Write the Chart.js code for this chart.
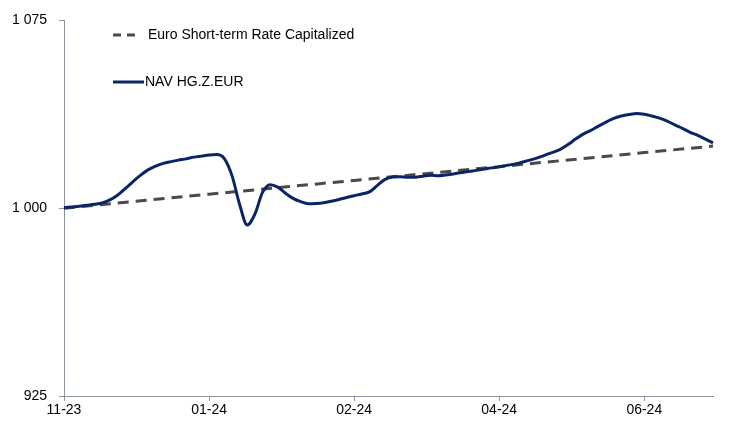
<!DOCTYPE html>
<html>
<head>
<meta charset="utf-8">
<script src="https://cdn.jsdelivr.net/npm/chart.js@4"></script>
<style>
  html, body { margin: 0; padding: 0; background: #fff; }
  #wrap { width: 734px; height: 421px; position: relative; }
</style>
</head>
<body>
<div id="wrap"><canvas id="navChart"></canvas></div>
<script>
// Tick labels shown every 19 points along the x axis
const tickLabels = ['11-23', '01-24', '02-24', '04-24', '06-24'];
const tickEvery = 19;

// NAV HG.Z.EUR, rebased to 1000
const navValues = [
    1000.2, 1000.5, 1000.8, 1001.2, 1001.6, 1002.1, 1003.3, 1005.2, 1007.8, 1010.5,
    1013.1, 1015.3, 1016.8, 1017.9, 1018.6, 1019.2, 1019.7, 1020.4, 1020.8, 1021.2,
    1021.4, 1019.8, 1013.0, 1001.5, 993.3, 997.6, 1006.3, 1009.4, 1008.4, 1006.0,
    1003.9, 1002.6, 1001.8, 1001.9, 1002.2, 1002.8, 1003.5, 1004.3, 1005.0, 1005.7,
    1006.5, 1009.0, 1011.4, 1012.5, 1012.6, 1012.4, 1012.4, 1012.8, 1013.2, 1013.0,
    1013.3, 1013.7, 1014.2, 1014.7, 1015.1, 1015.6, 1016.1, 1016.5, 1017.1, 1017.6,
    1018.4, 1019.2, 1020.1, 1021.2, 1022.3, 1023.5, 1025.4, 1027.6, 1029.6, 1031.1,
    1032.8, 1034.4, 1035.9, 1036.8, 1037.4, 1037.8, 1037.5, 1036.8, 1036.0, 1034.8,
    1033.3, 1031.9, 1030.3, 1029.1, 1027.6, 1026.1
];

// Euro short-term rate capitalized, read at the tick dates and the last date
const estrIndex = [0, 19, 38, 57, 76, 85];
const estrRead = [1000.0, 1005.6, 1011.1, 1016.6, 1022.2, 1024.8];

const labels = navValues.map((_, i) => i % tickEvery === 0 ? (tickLabels[i / tickEvery] || '') : '');
const estrValues = navValues.map(() => null);
estrIndex.forEach((idx, k) => { estrValues[idx] = estrRead[k]; });

const axisColor = '#8a949e';
const fontFamily = '"Liberation Sans", Arial, sans-serif';
const fmt = v => String(v).replace(/\B(?=(\d{3})+(?!\d))/g, ' ');

// legend drawn inside the plot, top left
const insideLegend = {
    id: 'insideLegend',
    afterDatasetsDraw(chart) {
        const ctx = chart.ctx;
        const rows = [
            { ds: chart.data.datasets[1], y: 35 },
            { ds: chart.data.datasets[0], y: 82 }
        ];
        ctx.save();
        rows.forEach(r => {
            const dashed = !!r.ds.borderDash;
            ctx.beginPath();
            ctx.strokeStyle = r.ds.borderColor;
            ctx.lineWidth = r.ds.borderWidth;
            ctx.setLineDash(dashed ? [8, 6] : []);
            ctx.moveTo(113, r.y);
            ctx.lineTo(dashed ? 135 : 144, r.y);
            ctx.stroke();
            ctx.setLineDash([]);
            ctx.fillStyle = '#000';
            ctx.font = '14px ' + fontFamily;
            ctx.textBaseline = 'middle';
            ctx.fillText(r.ds.label, dashed ? 148 : 145, r.y);
        });
        ctx.restore();
    }
};

document.addEventListener('DOMContentLoaded', () => {
    Chart.defaults.font.family = fontFamily;
    Chart.defaults.font.size = 14;
    Chart.defaults.color = '#000';

    const ctx = document.getElementById('navChart').getContext('2d');
    window.navChart = new Chart(ctx, {
        type: 'line',
        data: {
            labels: labels,
            datasets: [{
                label: 'NAV HG.Z.EUR',
                data: navValues,
                borderColor: '#0b2466',
                borderWidth: 3,
                pointRadius: 0,
                cubicInterpolationMode: 'monotone',
                fill: false
            }, {
                label: 'Euro Short-term Rate Capitalized',
                data: estrValues,
                borderColor: '#4a4a4a',
                borderWidth: 3,
                borderDash: [11, 7],
                pointRadius: 0,
                spanGaps: true,
                tension: 0,
                fill: false
            }]
        },
        options: {
            responsive: true,
            maintainAspectRatio: false,
            animation: false,
            layout: { padding: { top: 17, right: 21, bottom: 0, left: 0 } },
            plugins: {
                legend: { display: false },
                tooltip: { enabled: false }
            },
            scales: {
                x: {
                    offset: false,
                    afterFit: s => { s.height = 25; },
                    border: { color: axisColor, width: 1 },
                    grid: {
                        drawOnChartArea: false,
                        tickLength: 5,
                        color: c => (c.index % tickEvery === 0 ? axisColor : 'rgba(0,0,0,0)')
                    },
                    ticks: {
                        autoSkip: false,
                        maxRotation: 0,
                        padding: 1,
                        callback: (v, i) => labels[i]
                    }
                },
                y: {
                    min: 925,
                    max: 1075,
                    afterFit: s => { s.width = 64; },
                    border: { color: axisColor, width: 1 },
                    grid: { drawOnChartArea: false, tickLength: 5, color: axisColor },
                    ticks: {
                        stepSize: 75,
                        padding: 12,
                        callback: v => fmt(v)
                    }
                }
            }
        },
        plugins: [insideLegend]
    });
});
</script>
</body>
</html>
